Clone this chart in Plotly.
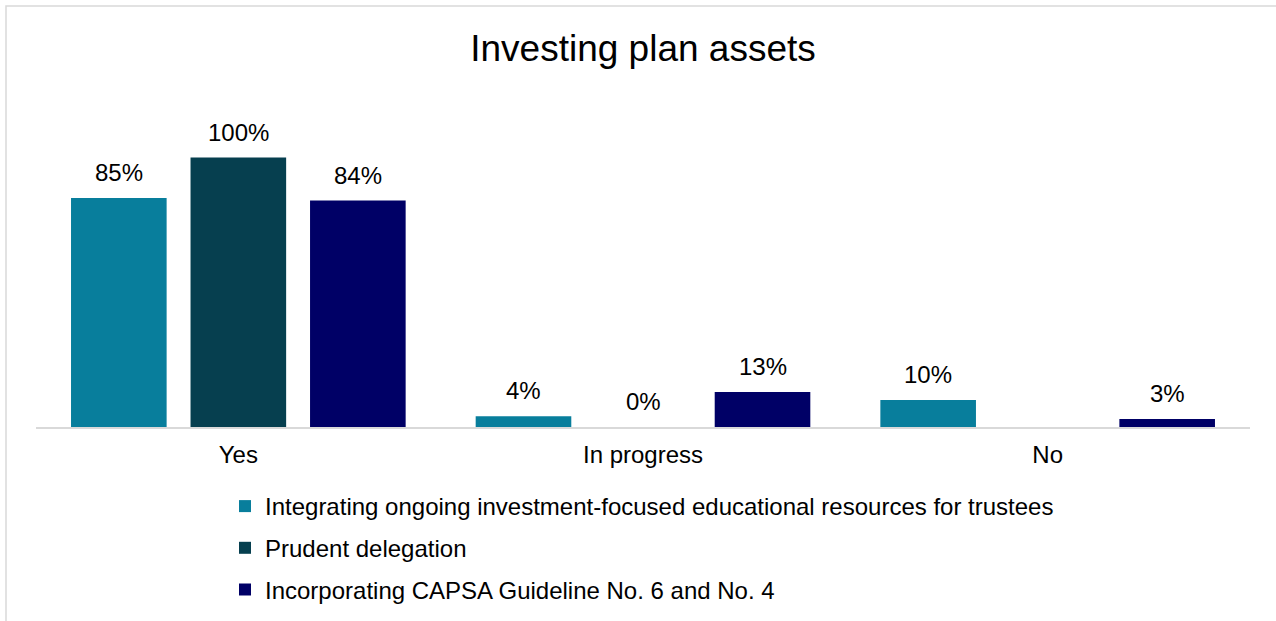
import plotly.graph_objects as go

# Survey results: share of plans per response, by practice
categories = ["Yes", "In progress", "No"]
series_names = [
    "Integrating ongoing investment-focused educational resources for trustees",
    "Prudent delegation",
    "Incorporating CAPSA Guideline No. 6 and No. 4",
]
educational = [0.85, 0.04, 0.10]
delegation = [1.00, 0.00, None]
capsa = [0.84, 0.13, 0.03]
series_values = [educational, delegation, capsa]
series_colors = ["#087E9C", "#063F4F", "#000066"]

FONT = "Liberation Sans, Arial, sans-serif"
BAR_GAP = 0.114
GROUP_GAP = 0.2
PLOT_H = 327

fig = go.Figure()
for name, vals, color in zip(series_names, series_values, series_colors):
    fig.add_trace(go.Bar(
        x=categories, y=vals, name=name, legendgroup=name,
        marker=dict(color=color, line=dict(width=0)),
    ))

# Value labels above each bar, placed at the bar's slot inside its group
n = len(series_values)
slot = (1 - BAR_GAP) / n
annotations = []
for i, vals in enumerate(series_values):
    offset = (i - (n - 1) / 2) * slot
    for j, v in enumerate(vals):
        if v is None:
            continue
        annotations.append(dict(
            x=j + offset, y=v, xref="x", yref="y",
            text=f"{round(v * 100)}%", showarrow=False,
            yanchor="bottom", yshift=10,
            font=dict(family=FONT, size=24, color="#000000"),
        ))

fig.update_layout(
    width=1276, height=621,
    margin=dict(l=36, r=26, t=100, b=621 - 100 - PLOT_H, autoexpand=False),
    paper_bgcolor="white", plot_bgcolor="white",
    barmode="group", bargap=BAR_GAP, bargroupgap=GROUP_GAP,
    title=dict(
        text="Investing plan assets", x=0.5, xanchor="center", xref="paper",
        y=1 - 48 / 621, yanchor="middle", yref="container",
        font=dict(family=FONT, size=37, color="#000000"),
    ),
    font=dict(family=FONT, size=24, color="#000000"),
    xaxis=dict(
        showline=True, linecolor="#D9D9D9", linewidth=1.5,
        showgrid=False, ticks="", tickfont=dict(size=24),
        ticklabelstandoff=5,
    ),
    yaxis=dict(
        range=[0, PLOT_H / 269.5], visible=False, showgrid=False, zeroline=False,
    ),
    legend=dict(
        orientation="v", x=(225 - 36) / 1214, xanchor="left",
        y=1 - 484 / 621, yanchor="top", yref="container",
        traceorder="grouped", tracegroupgap=7.5,
        font=dict(family=FONT, size=24, color="#000000"),
        bgcolor="rgba(0,0,0,0)",
    ),
    annotations=annotations,
    shapes=[dict(
        type="rect", xref="paper", yref="paper",
        x0=-30 / 1214, x1=1.2, y0=-1.0, y1=1 + 94 / PLOT_H,
        line=dict(color="#D9D9D9", width=1.5), fillcolor="rgba(0,0,0,0)",
        layer="below",
    )],
)

fig.write_html("out.html")
